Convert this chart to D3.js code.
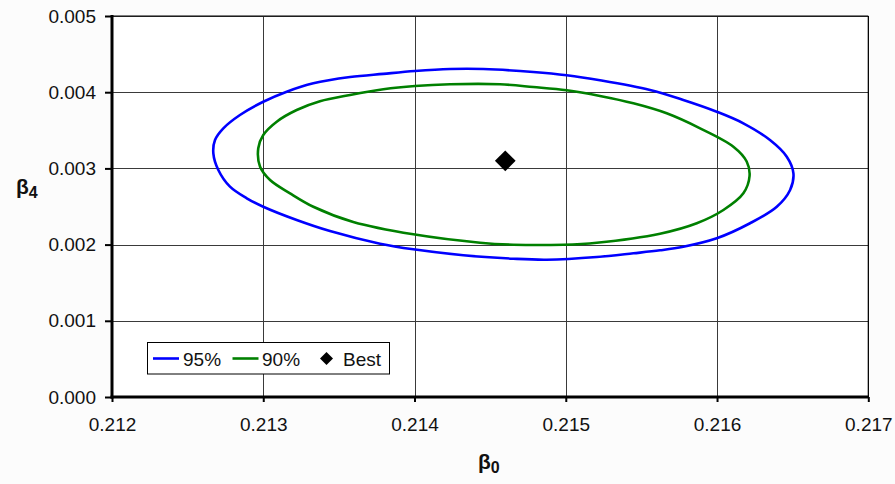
<!DOCTYPE html>
<html>
<head>
<meta charset="utf-8">
<script src="https://cdn.jsdelivr.net/npm/d3@7"></script>
<style>
  html, body { margin: 0; padding: 0; background: #fcfcfc; }
  svg { display: block; font-family: "Liberation Sans", Arial, sans-serif; }
</style>
</head>
<body>
<svg id="chart" width="895" height="484"></svg>
<script>
// Joint confidence regions for the parameters beta0 and beta4
const xTicks = [0.212, 0.213, 0.214, 0.215, 0.216, 0.217];
const yTicks = [0.000, 0.001, 0.002, 0.003, 0.004, 0.005];

// 95% region boundary (beta0, beta4)
const region95 = [
  [0.212670, 0.003198], [0.212681, 0.003373], [0.212736, 0.003526], [0.212846, 0.003701],
  [0.213000, 0.003875], [0.213155, 0.004007], [0.213331, 0.004117], [0.213574, 0.004199],
  [0.213794, 0.004241], [0.214003, 0.004278], [0.214235, 0.004304], [0.214455, 0.004304],
  [0.214785, 0.004265], [0.215006, 0.004222], [0.215226, 0.004156], [0.215557, 0.004029],
  [0.215777, 0.003898], [0.215998, 0.003744], [0.216174, 0.003592], [0.216350, 0.003373],
  [0.216461, 0.003154], [0.216505, 0.002936], [0.216483, 0.002717], [0.216395, 0.002497],
  [0.216218, 0.002280], [0.215998, 0.002083], [0.215777, 0.001972], [0.215623, 0.001925],
  [0.215447, 0.001886], [0.215205, 0.001837], [0.214874, 0.001802], [0.214653, 0.001815],
  [0.214323, 0.001860], [0.213992, 0.001938], [0.213772, 0.002012], [0.213441, 0.002178],
  [0.213221, 0.002323], [0.213000, 0.002497], [0.212891, 0.002608], [0.212780, 0.002760],
  [0.212703, 0.002979]
];

// 90% region boundary (beta0, beta4)
const region90 = [
  [0.212967, 0.003264], [0.213000, 0.003438], [0.213089, 0.003613], [0.213221, 0.003766],
  [0.213375, 0.003881], [0.213574, 0.003963], [0.213794, 0.004038], [0.214003, 0.004081],
  [0.214235, 0.004104], [0.214565, 0.004104], [0.214785, 0.004068], [0.215006, 0.004025],
  [0.215226, 0.003950], [0.215447, 0.003854], [0.215667, 0.003723], [0.215888, 0.003526],
  [0.216108, 0.003285], [0.216196, 0.003091], [0.216215, 0.002900], [0.216174, 0.002673],
  [0.216042, 0.002454], [0.215866, 0.002280], [0.215623, 0.002143], [0.215205, 0.002025],
  [0.214984, 0.001999], [0.214653, 0.001999], [0.214433, 0.002025], [0.213992, 0.002135],
  [0.213595, 0.002297], [0.213331, 0.002497], [0.213177, 0.002673], [0.213045, 0.002848],
  [0.212979, 0.003022]
];

// Best estimate
const best = [0.2146, 0.0031];

const legendItems = ["95%", "90%", "Best"];

const svg = d3.select("#chart");
const plotLeft = 112, plotRight = 868.3, plotTop = 16, plotBottom = 397;

const x = d3.scaleLinear().domain([0.212, 0.217]).range([plotLeft, plotRight]);
const y = d3.scaleLinear().domain([0, 0.005]).range([plotBottom, plotTop]);

// plot background
svg.append("rect")
  .attr("x", plotLeft).attr("y", plotTop)
  .attr("width", plotRight - plotLeft).attr("height", plotBottom - plotTop)
  .attr("fill", "#ffffff");

// gridlines
const grid = svg.append("g").attr("stroke", "#3a3a3a").attr("stroke-width", 1);
grid.selectAll("line.v").data(xTicks.slice(1)).join("line")
  .attr("class", "v")
  .attr("x1", d => Math.round(x(d)) + 0.5).attr("x2", d => Math.round(x(d)) + 0.5)
  .attr("y1", plotTop).attr("y2", plotBottom);
grid.selectAll("line.h").data(yTicks.slice(1)).join("line")
  .attr("class", "h")
  .attr("y1", d => Math.round(y(d)) + 0.5).attr("y2", d => Math.round(y(d)) + 0.5)
  .attr("x1", plotLeft).attr("x2", plotRight);

// axes
const xAxis = d3.axisBottom(x).tickValues(xTicks).tickFormat(d3.format(".3f"))
  .tickSize(5).tickPadding(16);
const yAxis = d3.axisLeft(y).tickValues(yTicks).tickFormat(d3.format(".3f"))
  .tickSize(7).tickPadding(9);

const gx = svg.append("g").attr("transform", `translate(0,${plotBottom})`).call(xAxis);
const gy = svg.append("g").attr("transform", `translate(${plotLeft},0)`).call(yAxis);
[gx, gy].forEach(g => {
  g.select(".domain").remove();
  g.selectAll(".tick line").attr("stroke", "#000").attr("stroke-width", 2);
  g.selectAll(".tick text").attr("fill", "#111").style("font-size", "19px")
    .style("font-family", "'Liberation Sans', Arial, sans-serif");
});

// axis lines: thick left and bottom, thin top and right
svg.append("line").attr("x1", plotLeft).attr("x2", plotRight).attr("y1", plotTop).attr("y2", plotTop)
  .attr("stroke", "#000").attr("stroke-width", 1.2);
svg.append("line").attr("x1", plotRight).attr("x2", plotRight).attr("y1", plotTop).attr("y2", plotBottom)
  .attr("stroke", "#000").attr("stroke-width", 1.2);
svg.append("line").attr("x1", plotLeft).attr("x2", plotLeft).attr("y1", plotTop - 1).attr("y2", plotBottom + 1.5)
  .attr("stroke", "#000").attr("stroke-width", 3);
svg.append("line").attr("x1", plotLeft - 1.5).attr("x2", plotRight + 0.6).attr("y1", plotBottom).attr("y2", plotBottom)
  .attr("stroke", "#000").attr("stroke-width", 3);

// confidence regions
const line = d3.line()
  .x(d => x(d[0])).y(d => y(d[1]))
  .curve(d3.curveCatmullRomClosed.alpha(0.5));

svg.append("path").datum(region95).attr("d", line)
  .attr("fill", "none").attr("stroke", "#0000ff").attr("stroke-width", 2.6)
  .attr("stroke-linejoin", "round");
svg.append("path").datum(region90).attr("d", line)
  .attr("fill", "none").attr("stroke", "#008000").attr("stroke-width", 2.6)
  .attr("stroke-linejoin", "round");

// best estimate marker
const diamond = d3.symbol().type(d3.symbolSquare).size(215);
svg.append("path").attr("d", diamond())
  .attr("transform", `translate(${x(best[0])},${y(best[1])}) rotate(45)`)
  .attr("fill", "#000");

// axis titles
const titleX = svg.append("text").attr("x", 478).attr("y", 469)
  .style("font-size", "21px").style("font-weight", "bold").attr("fill", "#111");
titleX.append("tspan").text("β");
titleX.append("tspan").attr("dy", 4).style("font-size", "16px").text("0");

const titleY = svg.append("text").attr("x", 16).attr("y", 194)
  .style("font-size", "21px").style("font-weight", "bold").attr("fill", "#111");
titleY.append("tspan").text("β");
titleY.append("tspan").attr("dy", 4).style("font-size", "16px").text("4");

// legend
const lg = svg.append("g");
lg.append("rect").attr("x", 147.5).attr("y", 342.5).attr("width", 242).attr("height", 31.5)
  .attr("fill", "#fff").attr("stroke", "#000").attr("stroke-width", 1);
const swatchX = [153, 232.5];
const colors = ["#0000ff", "#008000"];
[0, 1].forEach(i => {
  lg.append("line").attr("x1", swatchX[i]).attr("x2", swatchX[i] + 26)
    .attr("y1", 358.5).attr("y2", 358.5)
    .attr("stroke", colors[i]).attr("stroke-width", 2.6);
});
lg.append("path").attr("d", d3.symbol().type(d3.symbolSquare).size(85)())
  .attr("transform", "translate(326.5,358.5) rotate(45)").attr("fill", "#000");
const labelX = [183, 262, 343];
legendItems.forEach((t, i) => {
  lg.append("text").attr("x", labelX[i]).attr("y", 365.5)
    .style("font-size", "19px").attr("fill", "#111").text(t);
});
</script>
</body>
</html>
